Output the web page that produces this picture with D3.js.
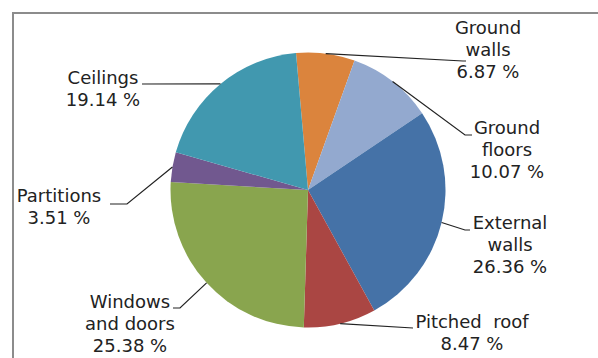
<!DOCTYPE html>
<html>
<head>
<meta charset="utf-8">
<script src="https://cdn.jsdelivr.net/npm/d3@7"></script>
<style>
	body { margin: 0; background: #fff; }
	svg { display: block; }
</style>
</head>
<body>
<svg id="chart"></svg>
<script>
// DATA

var categories = ["Ground walls", "Ground floors", "External walls", "Pitched roof",
	"Windows and doors", "Partitions", "Ceilings"];
var labelLines = [["Ground", "walls"], ["Ground", "floors"], ["External", "walls"], ["Pitched  roof"],
	["Windows", "and doors"], ["Partitions"], ["Ceilings"]];
var shares = [6.87, 10.07, 26.36, 8.47, 25.38, 3.51, 19.14];
var colors = ["#DB843D", "#93A9CF", "#4572A7", "#AA4643", "#89A54E", "#71588F", "#4198AF"];

// LAYOUT

var width = 598,
	height = 358,
	cx = 308,
	cy = 190,
	radius = 137.5,
	lineH = 22;

// label block centre x, first baseline y, leader end [x, y], short horizontal end x
var labelPos = [
	{ x: 488, y: 34, end: [463, 61], tail: 466 },
	{ x: 507, y: 134, end: [465, 135], tail: 472 },
	{ x: 510, y: 229, end: [465, 230], tail: 470 },
	{ x: 472, y: 328, end: [413, 328], tail: 413 },
	{ x: 130, y: 308, end: [180, 308], tail: 173 },
	{ x: 59, y: 202, end: [127, 204], tail: 110 },
	{ x: 103, y: 84, end: [142, 84], tail: 142 }
];

var svg = d3.select("#chart")
	.attr('width', width)
	.attr('height', height)
	.style('font-family', '"DejaVu Sans", Verdana, sans-serif');

// frame
svg.append('path')
	.attr('d', 'M13,' + height + ' V13 H' + width)
	.attr('fill', 'none')
	.attr('stroke', '#8c8c8c')
	.attr('stroke-width', 2);

var pie = d3.pie()
	.sort(null)
	.startAngle(-5 * Math.PI / 180)
	.endAngle(355 * Math.PI / 180);

var arcs = pie(shares);

var arc = d3.arc()
	.innerRadius(0)
	.outerRadius(radius);

var g = svg.append('g')
	.attr('transform', 'translate(' + cx + ',' + cy + ')');

g.selectAll('path').data(arcs)
	.enter().append('path')
	.attr('d', arc)
	.attr('fill', function(d, i) { return colors[i]; });

// leader lines
svg.selectAll('.leader').data(arcs)
	.enter().append('polyline')
	.attr('class', 'leader')
	.attr('fill', 'none')
	.attr('stroke', '#222')
	.attr('stroke-width', 1.2)
	.attr('points', function(d, i) {
		var a = (d.startAngle + d.endAngle) / 2;
		var p0 = [cx + radius * Math.sin(a), cy - radius * Math.cos(a)];
		var lp = labelPos[i];
		return [p0, lp.end, [lp.tail, lp.end[1]]].map(function(p) { return p.join(','); }).join(' ');
	});

// labels
var labels = svg.selectAll('.label').data(arcs)
	.enter().append('text')
	.attr('class', 'label')
	.attr('text-anchor', 'middle')
	.attr('font-size', 18)
	.attr('fill', '#222')
	.attr('x', function(d, i) { return labelPos[i].x; })
	.attr('y', function(d, i) { return labelPos[i].y; });

labels.each(function(d, i) {
	var t = d3.select(this);
	var lines = labelLines[i].concat([d3.format(".2f")(shares[i]) + " %"]);
	lines.forEach(function(s, k) {
		t.append('tspan')
			.attr('x', labelPos[i].x)
			.attr('dy', k === 0 ? 0 : lineH)
			.style('white-space', 'pre')
			.text(s);
	});
});
</script>
</body>
</html>
